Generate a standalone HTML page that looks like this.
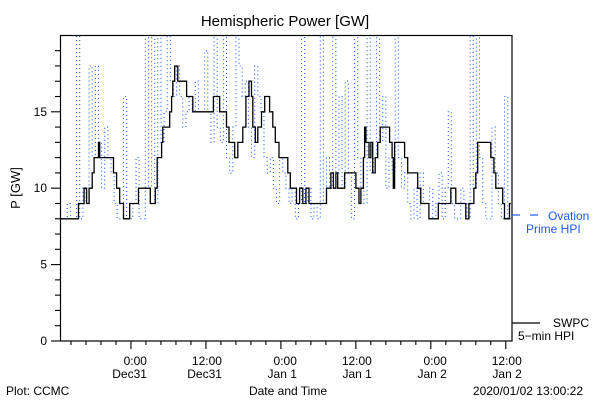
<!DOCTYPE html>
<html><head><meta charset="utf-8"><style>
html,body{margin:0;padding:0;background:#fff;}
svg{display:block;font-family:"Liberation Sans",sans-serif;}
</style></head><body>
<svg id="chart" width="600" height="400" viewBox="0 0 600 400" xmlns="http://www.w3.org/2000/svg">
<rect width="600" height="400" fill="#fff"/>
<text x="285" y="26" font-size="15" text-anchor="middle">Hemispheric Power [GW]</text>
<text x="20" y="188" font-size="13" text-anchor="middle" transform="rotate(-90 20 188)">P [GW]</text>
<g id="ticks"></g>
<defs><clipPath id="clip"><rect x="61" y="35" width="451" height="306"/></clipPath></defs>
<g clip-path="url(#clip)">
<path id="blue" fill="none" stroke="#1a5cff" stroke-width="1.1" stroke-dasharray="1,3"/>
<path id="black" fill="none" stroke="#000" stroke-width="1.3"/>
</g>
<rect x="60.5" y="35.5" width="451.5" height="305.5" fill="none" stroke="#000" stroke-width="1.2"/>
<g>
<line x1="512" y1="215" x2="520" y2="215" stroke="#1a5cff" stroke-width="1.2"/>
<line x1="530" y1="215" x2="538" y2="215" stroke="#1a5cff" stroke-width="1.2"/>
<text x="548" y="220" font-size="12" fill="#1a5cff">Ovation</text>
<text x="526" y="233" font-size="12" fill="#1a5cff">Prime HPI</text>
</g>
<g>
<line x1="512" y1="323" x2="540" y2="323" stroke="#000" stroke-width="1.2"/>
<text x="553" y="327" font-size="12">SWPC</text>
<text x="518" y="340" font-size="12">5−min HPI</text>
</g>
<text x="288" y="395" font-size="12" text-anchor="middle">Date and Time</text>
<text x="6" y="395" font-size="12">Plot: CCMC</text>
<text x="583" y="395" font-size="12" text-anchor="end">2020/01/02 13:00:22</text>
</svg>
<script>
// Black SWPC step series: hours since plot start, value (GW)
const swpcTimes = [0,2.8,3.7,4.1,4.5,5.0,5.3,6.0,6.2,8.4,8.9,9.4,10.0,11.0,12.4,14.3,15.1,15.4,16.1,16.3,17.4,17.7,17.9,18.2,18.7,20.1,21.1,24.4,25.4,26.5,26.9,27.8,28.3,29.1,29.6,30.1,30.5,30.7,31.1,31.5,32.1,32.6,33.4,33.9,34.3,34.9,36.3,36.7,37.7,38.2,38.7,39.2,39.7,42.5,43.2,43.6,44.0,44.3,45.4,47.2,47.7,48.0,48.4,48.6,48.8,49.3,49.6,49.9,50.3,50.7,51.1,52.6,53.0,53.2,53.4,55.0,55.5,57.1,57.6,58.9,60.4,62.4,63.2,64.8,65.3,66.1,66.4,66.7,68.8,69.3,69.6,70.7,71.0,71.8,72];
const swpcValues = [8,9,10,9,10,11,12,13,12,11,10,9,8,9,10,9,10,12,13,14,15,16,17,18,17,16,15,16,15,14,13,12,13,14,16,17,16,14,13,14,15,16,15,14,13,12,11,10,9,10,9,10,9,10,11,10,11,10,11,10,9,10,12,14,13,12,13,11,12,13,14,13,12,10,13,12,11,10,9,8,9,10,9,8,9,10,11,13,12,11,10,9,8,9,9];
// Blue Ovation series: one value per half hour
const ovationStep = 0.5;
const ovationValues = [8,8,9,8,8,21,8,10,9,18,
12,18,13,10,14,12,11,9,8,8,
16,8,8,9,12,8,8,21,10,21,
9,21,13,15,21,17,16,18,16,14,
15,16,15,17,15,15,19,15,13,21,
14,13,21,12,11,14,21,18,16,17,
14,12,18,16,15,12,11,12,10,9,
12,11,10,9,10,8,9,21,9,10,
8,9,8,21,9,12,10,21,11,16,
10,17,11,8,21,12,10,9,21,11,
12,21,13,16,10,12,11,21,12,10,
11,9,8,10,8,11,9,9,10,8,
9,11,8,10,15,9,8,8,10,9,
8,21,10,21,12,9,8,8,14,11,
9,8,16,8];
const yMajor = [0,5,10,15];
const xTickLabels = [["0:00","Dec31"],["12:00","Dec31"],["0:00","Jan 1"],["12:00","Jan 1"],["0:00","Jan 2"],["12:00","Jan 2"]];
const firstMajorHour = 11.2;

const X0=61, PXH=6.247, Y0=341, PXV=15.28;
function xs(h){return X0+h*PXH;}
function ys(v){return Y0-v*PXV;}
const NS="http://www.w3.org/2000/svg";

function stepPath(ts, vs){
  let d="M"+xs(ts[0]).toFixed(1)+","+ys(vs[0]).toFixed(1);
  for(let i=1;i<ts.length;i++){
    d+="H"+xs(ts[i]).toFixed(1)+"V"+ys(vs[i]).toFixed(1);
  }
  return d;
}
document.getElementById("black").setAttribute("d", stepPath(swpcTimes, swpcValues));
const oT = ovationValues.map((v,i)=>i*ovationStep);
oT.push(ovationValues.length*ovationStep);
const oV = ovationValues.concat([ovationValues[ovationValues.length-1]]);
document.getElementById("blue").setAttribute("d", stepPath(oT, oV));

const g=document.getElementById("ticks");
function line(x1,y1,x2,y2,name){
  const l=document.createElementNS(NS,"line");
  l.setAttribute("x1",x1);l.setAttribute("y1",y1);l.setAttribute("x2",x2);l.setAttribute("y2",y2);
  l.setAttribute("stroke","#000");l.setAttribute("stroke-width","1.1");
  
  
  g.appendChild(l);
}
function text(x,y,s,name){
  const t=document.createElementNS(NS,"text");
  t.setAttribute("x",x);t.setAttribute("y",y);t.setAttribute("font-size","12");t.setAttribute("text-anchor","end");
  t.textContent=s;
  
  
  g.appendChild(t);
  return t;
}
for(let v=0; v<20; v++){
  const major = yMajor.indexOf(v)>=0;
  line(major?51:55, ys(v), 60, ys(v), "y-tick");
}
yMajor.forEach(v=>{ text(47, ys(v)+4, String(v), "y-tick-label"); });
for(let h=firstMajorHour-4*2.4; h<=72.2; h+=2.4){
  if(h<0) continue;
  const k=Math.round((h-firstMajorHour)/2.4);
  const major = k>=0 && k%5===0;
  line(xs(h), 341, xs(h), major?349:345, "x-tick");
}
xTickLabels.forEach((lb,i)=>{
  const x=xs(firstMajorHour+12*i)+16;
  text(x,365,lb[0],"x-tick-label-time");
  text(x,378,lb[1],"x-tick-label-date");
});
</script>
</body></html>
